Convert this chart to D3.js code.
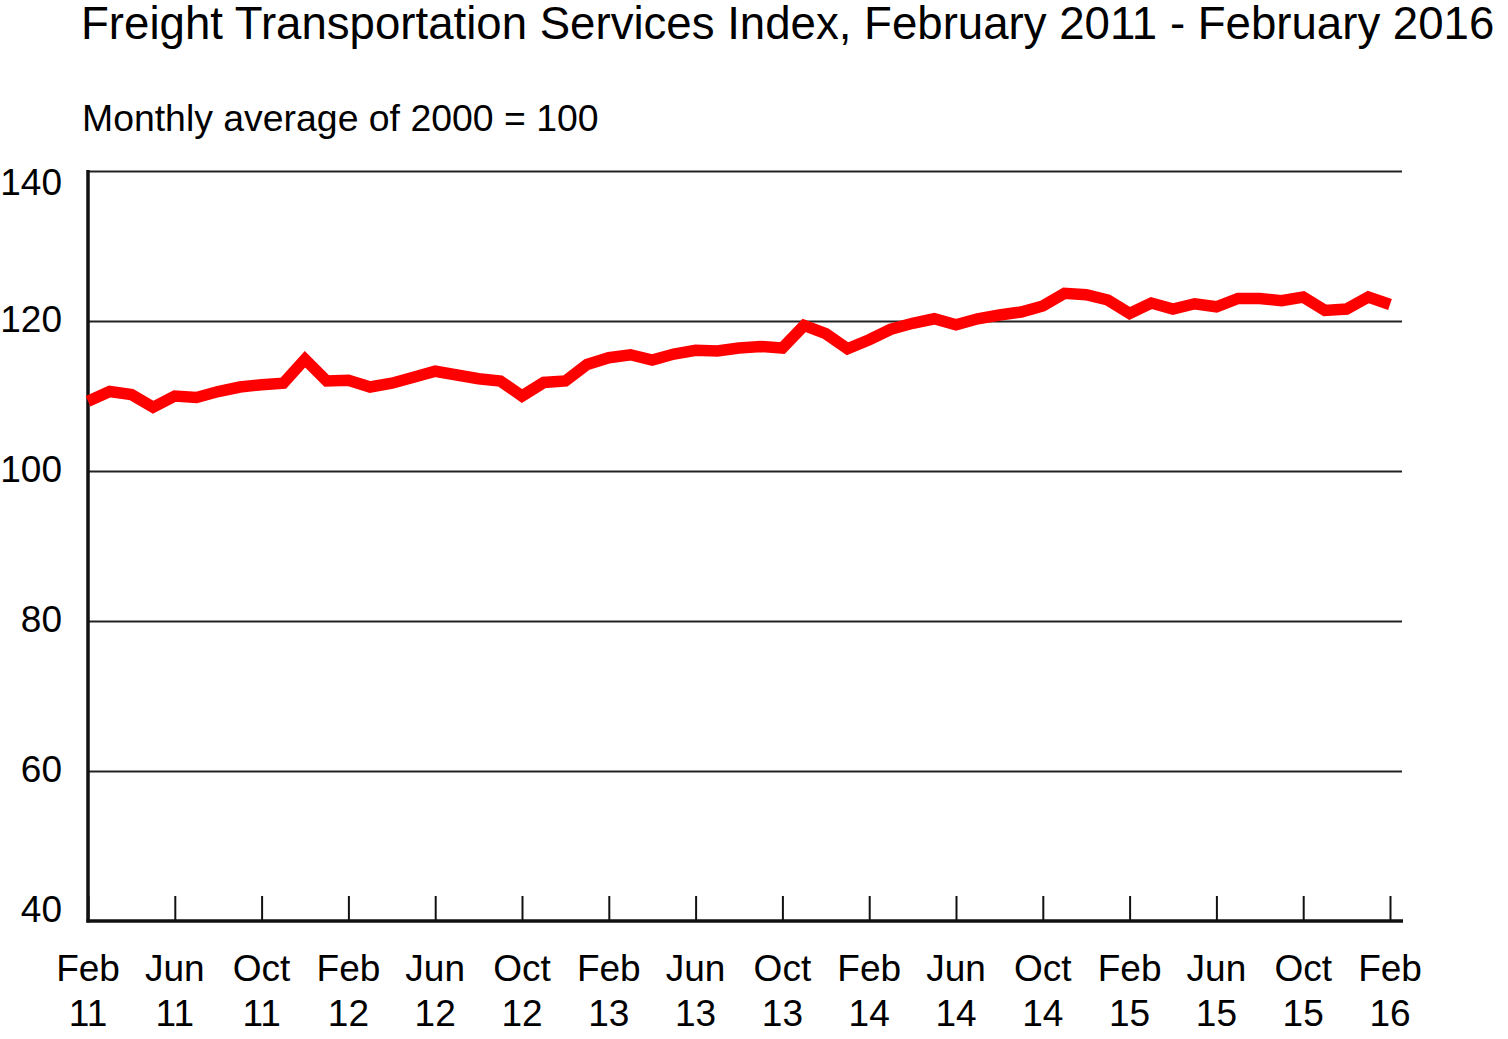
<!DOCTYPE html>
<html>
<head>
<meta charset="utf-8">
<script src="https://cdn.jsdelivr.net/npm/d3@7"></script>
<style>
  body { margin: 0; background: #fff; }
  svg { display: block; }
  text { font-family: "Liberation Sans", Arial, sans-serif; fill: #000; }
</style>
</head>
<body>
<div id="chart"></div>
<script>
const width = 1508, height = 1039;

// Monthly index values, Feb 2011 .. Feb 2016
const months = d3.range(61);
const fsiValues = [
  109.3, 110.6, 110.2, 108.5, 110.0, 109.8, 110.6, 111.2, 111.5, 111.7, 114.9, 112.0,
  112.1, 111.2, 111.7, 112.5, 113.3, 112.8, 112.3, 112.0, 110.0, 111.8, 112.0, 114.2,
  115.1, 115.5, 114.8, 115.6, 116.1, 116.0, 116.4, 116.6, 116.4, 119.4, 118.3, 116.3,
  117.5, 118.9, 119.7, 120.3, 119.5, 120.3, 120.8, 121.2, 122.0, 123.7, 123.5, 122.8,
  121.0, 122.4, 121.6, 122.3, 121.9, 123.0, 123.0, 122.7, 123.2, 121.4, 121.6, 123.2,
  122.2
];
const yTicks = [40, 60, 80, 100, 120, 140];
const xTickMonths = [0, 4, 8, 12, 16, 20, 24, 28, 32, 36, 40, 44, 48, 52, 56, 60];
const xTickNames = ["Feb", "Jun", "Oct", "Feb", "Jun", "Oct", "Feb", "Jun", "Oct", "Feb", "Jun", "Oct", "Feb", "Jun", "Oct", "Feb"];
const xTickYears = ["11", "11", "11", "12", "12", "12", "13", "13", "13", "14", "14", "14", "15", "15", "15", "16"];

const plotLeft = 88, plotRight = 1390, plotTop = 171, plotBottom = 921, gridEnd = 1402;

const x = d3.scaleLinear().domain([0, 60]).range([plotLeft, plotRight]);
const y = d3.scaleLinear().domain([40, 140]).range([plotBottom, plotTop]);

const svg = d3.select("#chart").append("svg")
    .attr("width", width)
    .attr("height", height);

// titles
svg.append("text")
    .attr("x", 81).attr("y", 39)
    .style("font-size", "45.6px")
    .text("Freight Transportation Services Index, February 2011 - February 2016");

svg.append("text")
    .attr("x", 82).attr("y", 131)
    .style("font-size", "37.4px")
    .text("Monthly average of 2000 = 100");

// horizontal gridlines
const yAxis = svg.append("g")
    .attr("transform", `translate(${plotLeft},0)`)
    .call(d3.axisLeft(y).tickValues(yTicks).tickSize(-(gridEnd - plotLeft)).tickFormat(""));
yAxis.select(".domain").remove();
yAxis.selectAll(".tick line")
    .attr("stroke", "#222")
    .attr("stroke-width", 2)
    .filter(d => d === 40).remove();

// y labels
svg.selectAll("text.ylab")
    .data(yTicks)
    .enter().append("text")
    .attr("class", "ylab")
    .attr("x", 62)
    .attr("y", d => y(d) + (d === 140 ? 24 : d === 40 ? 1 : 11))
    .attr("text-anchor", "end")
    .style("font-size", "37px")
    .text(d => d);

// x axis with upward ticks
const xAxis = svg.append("g")
    .attr("transform", `translate(0,${plotBottom})`)
    .call(d3.axisBottom(x).tickValues(xTickMonths).tickSize(-25).tickSizeOuter(0).tickFormat(""));
xAxis.select(".domain").remove();
xAxis.selectAll(".tick line").attr("stroke", "#111").attr("stroke-width", 2);

// x labels (two lines)
const xl = svg.selectAll("g.xlab")
    .data(xTickMonths)
    .enter().append("g")
    .attr("class", "xlab")
    .attr("transform", d => `translate(${x(d)},0)`);
xl.append("text")
    .attr("y", 981)
    .attr("text-anchor", "middle")
    .style("font-size", "37px")
    .text((d, i) => xTickNames[i]);
xl.append("text")
    .attr("y", 1026)
    .attr("text-anchor", "middle")
    .style("font-size", "37px")
    .text((d, i) => xTickYears[i]);

// axis lines
svg.append("line")
    .attr("x1", plotLeft).attr("x2", plotLeft)
    .attr("y1", plotTop - 1).attr("y2", plotBottom + 1.5)
    .attr("stroke", "#111").attr("stroke-width", 3.5);
svg.append("line")
    .attr("x1", plotLeft - 1.5).attr("x2", gridEnd + 1)
    .attr("y1", plotBottom).attr("y2", plotBottom)
    .attr("stroke", "#111").attr("stroke-width", 3.5);

// data line
const line = d3.line()
    .x((d, i) => x(months[i]))
    .y(d => y(d));

svg.append("path")
    .datum(fsiValues)
    .attr("d", line)
    .attr("fill", "none")
    .attr("stroke", "#ff0000")
    .attr("stroke-width", 11.5)
    .attr("stroke-linejoin", "miter")
    .attr("stroke-linecap", "butt");
</script>
</body>
</html>
